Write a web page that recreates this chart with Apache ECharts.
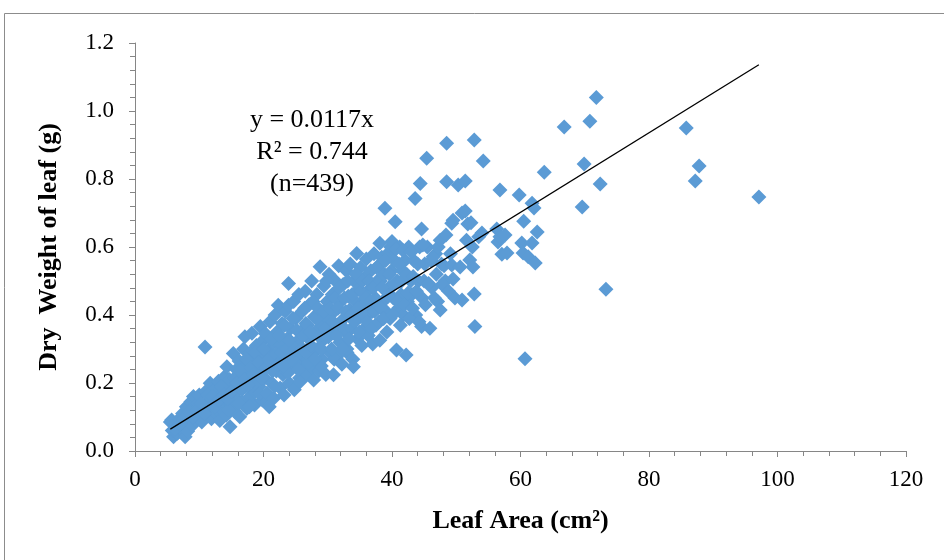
<!DOCTYPE html>
<html>
<head>
<meta charset="utf-8">
<style>
  html, body { margin: 0; padding: 0; background: #fff; }
  #chart { width: 944px; height: 560px; }
</style>
<script src="https://cdn.jsdelivr.net/npm/echarts@6/dist/echarts.min.js"></script>
</head>
<body>
<div id="chart"></div>
<script>
// leaf area (cm²), dry weight (g), grouped by size
let smallLeaves = [
  [5.5,0.085],[5.7,0.091],[6.0,0.042],[5.8,0.06],[6.3,0.075],[6.6,0.052],[6.9,0.095],[7.1,0.066],[7.4,0.11],[7.8,0.042],
  [7.9,0.08],[8.0,0.13],[8.2,0.058],[8.5,0.1],[8.7,0.145],[8.9,0.075],[9.1,0.16],[9.3,0.12],[9.5,0.09],[9.8,0.14],
  [10.0,0.165],[10.2,0.105],[10.4,0.085],[10.6,0.13],[10.9,0.306],[11.0,0.175],[11.2,0.115],[11.5,0.15],[11.7,0.199],[11.9,0.095],
  [12.1,0.135],[12.3,0.18],[12.6,0.11],[6.2,0.065],[7.0,0.08],[7.6,0.095],[9.0,0.1],[10.1,0.125],[11.8,0.14],[13.3,0.11],
  [12.8,0.155],[13.0,0.205],[13.2,0.09],[13.4,0.125],[13.6,0.17],[13.8,0.145],[14.0,0.22],[14.2,0.105],[14.3,0.248],[14.5,0.185],
  [14.8,0.071],[14.9,0.135],[15.1,0.2],[15.3,0.287],[15.4,0.16],[15.6,0.115],[15.8,0.24],[16.0,0.18],[16.2,0.265],[16.3,0.101],
  [16.5,0.215],[16.7,0.145],[16.9,0.3],[17.1,0.336],[17.2,0.19],[17.4,0.125],[17.5,0.255],[17.7,0.225],[17.9,0.16],[18.0,0.29],
  [18.2,0.346],[18.4,0.205],[18.6,0.135],[18.7,0.174],[18.7,0.263],[18.9,0.31],[19.1,0.235],[19.3,0.19],[19.5,0.366],[19.6,0.28],
  [19.8,0.15],[19.9,0.325],[20.0,0.25],[14.6,0.12],[16.1,0.14],[17.8,0.13],[19.4,0.17]
]

let midLeaves = [
  [20.2,0.215],[20.3,0.345],[20.5,0.17],[20.7,0.295],[20.9,0.13],[21.0,0.38],[21.1,0.26],[21.3,0.2],[21.5,0.32],[21.6,0.155],
  [21.8,0.4],[22.0,0.235],[22.1,0.35],[22.3,0.429],[22.4,0.28],[22.6,0.185],[22.7,0.31],[22.9,0.375],[23.0,0.225],[23.2,0.165],
  [23.4,0.41],[23.5,0.265],[23.7,0.33],[23.9,0.493],[23.9,0.429],[24.0,0.2],[24.2,0.36],[24.3,0.295],[24.5,0.245],[24.7,0.44],
  [24.8,0.18],[25.0,0.39],[25.1,0.32],[25.3,0.275],[25.5,0.46],[25.6,0.215],[25.7,0.204],[25.8,0.35],[26.0,0.41],[21.7,0.19],
  [26.1,0.3],[26.3,0.255],[26.5,0.47],[26.6,0.375],[26.8,0.225],[27.0,0.33],[27.1,0.43],[27.3,0.28],[27.5,0.5],[27.6,0.245],
  [27.8,0.209],[27.9,0.395],[28.1,0.35],[28.3,0.46],[28.4,0.3],[28.6,0.235],[28.8,0.542],[28.9,0.41],[29.1,0.27],[29.2,0.37],
  [29.4,0.485],[29.5,0.33],[29.7,0.225],[29.9,0.44],[30.0,0.39],[30.2,0.52],[30.3,0.29],[30.5,0.355],[30.7,0.46],[30.9,0.224],
  [31.0,0.41],[31.2,0.5],[31.4,0.277],[31.5,0.37],[31.7,0.545],[31.9,0.32],[32.0,0.44],[23.8,0.23],[25.0,0.26],[27.0,0.26],
  [29.0,0.25],[31.0,0.27],[33.0,0.29],
  [32.2,0.255],[32.4,0.49],[32.5,0.39],[32.7,0.35],[32.9,0.53],[33.0,0.3],[33.2,0.455],[33.4,0.415],[33.5,0.55],[33.7,0.36],
  [33.9,0.27],[34.0,0.248],[34.1,0.5],[34.3,0.44],[34.5,0.581],[34.6,0.33],[34.8,0.475],[35.0,0.395],[35.1,0.54],[35.3,0.31],
  [35.5,0.43],[35.7,0.36],[35.8,0.51],[36.0,0.565],[36.2,0.47],[36.3,0.34],[36.5,0.405],[36.7,0.53],[36.9,0.41],[37.0,0.315],
  [37.2,0.58],[37.4,0.45],[37.5,0.37],[37.7,0.5],[37.9,0.545],[38.1,0.326],[38.1,0.611]
]

let innerCloud = [
  [8.4,0.115],[9.6,0.12],[10.3,0.14],[10.8,0.11],[11.4,0.165],[12.0,0.16],[12.4,0.13],[13.1,0.15],[13.5,0.19],[13.9,0.165],
  [14.4,0.155],[14.7,0.21],[15.0,0.175],[15.5,0.215],[15.9,0.2],[16.4,0.235],[16.6,0.18],[17.0,0.21],[17.3,0.27],[17.6,0.195],
  [18.1,0.245],[18.5,0.225],[18.8,0.29],[19.2,0.26],[19.7,0.215],[20.1,0.3],[20.4,0.245],[20.8,0.27],[21.2,0.33],[21.4,0.235],
  [21.9,0.285],[22.2,0.255],[22.5,0.34],[22.8,0.29],[23.1,0.25],[23.3,0.37],[23.6,0.3],[24.1,0.325],[24.4,0.27],[24.6,0.39],
  [24.9,0.3],[25.2,0.355],[25.4,0.24],[25.9,0.3],[26.2,0.34],[26.4,0.42],[26.7,0.29],[26.9,0.37],[27.2,0.35],[27.4,0.31],
  [27.7,0.44],[28.0,0.27],[28.2,0.39],[28.5,0.42],[28.7,0.335],[29.0,0.3],[29.3,0.41],[29.6,0.36],[29.8,0.5],[30.1,0.335],
  [30.4,0.42],[30.6,0.3],[30.8,0.38],[31.1,0.45],[31.3,0.34],[31.6,0.42],[31.8,0.48],[32.1,0.37],[32.3,0.3],[32.6,0.45],
  [32.8,0.41],[33.1,0.5],[33.3,0.33],[33.6,0.4],[33.8,0.46],[34.2,0.38],[34.4,0.52],[34.7,0.42],[34.9,0.35],[35.2,0.47],
  [35.4,0.5],[35.6,0.4],[35.9,0.45],[36.1,0.38],[36.4,0.5],[36.6,0.44],[36.8,0.36],[37.1,0.48],[37.3,0.41],[37.6,0.54],
  [37.8,0.43],[38.0,0.38],[38.2,0.5],[38.4,0.57],[38.6,0.44],[38.8,0.52],[39.1,0.41],[39.3,0.58],[39.5,0.48],[39.7,0.39],
  [39.9,0.53],[40.2,0.45],[40.4,0.56],[40.8,0.5],[41.0,0.42],[41.2,0.6],[41.4,0.46],[41.6,0.53],[41.8,0.4],[42.0,0.56],
  [42.4,0.44],[42.6,0.6],[42.9,0.5],[43.1,0.46],[43.4,0.56],[43.7,0.4],[44.1,0.5],[44.3,0.6],[44.7,0.45],[45.1,0.55],
  [45.5,0.6],[46.2,0.48],[46.8,0.58],[47.1,0.44],[47.7,0.55],[48.3,0.5]
]

let largeLeaves = [
  [38.3,0.42],[38.5,0.48],[38.7,0.39],[38.9,0.714],[39.0,0.56],[39.2,0.35],[39.4,0.455],[39.6,0.52],[39.8,0.6],[40.0,0.616],
  [40.1,0.4],[40.3,0.49],[40.5,0.674],[40.6,0.594],[40.7,0.297],[40.9,0.44],[41.1,0.55],[41.3,0.37],[41.5,0.5],[41.7,0.59],
  [41.9,0.43],[42.2,0.282],[42.3,0.52],[42.5,0.465],[42.7,0.39],[43.0,0.585],[43.2,0.42],[43.3,0.513],[43.6,0.743],[43.8,0.47],
  [44.0,0.55],[44.2,0.38],[44.4,0.787],[44.6,0.366],[44.6,0.653],[44.8,0.606],[45.0,0.5],[45.2,0.43],[45.4,0.861],[45.7,0.493],
  [45.9,0.361],[46.1,0.56],[46.4,0.571],
  [46.6,0.45],[46.9,0.52],[47.2,0.6],[47.5,0.415],[47.5,0.62],[47.8,0.49],[48.1,0.545],[48.4,0.635],[48.5,0.905],[48.5,0.792],
  [48.8,0.47],[49.1,0.58],[49.3,0.67],[49.3,0.547],[49.5,0.506],[49.5,0.679],[49.8,0.45],[50.3,0.782],[50.6,0.541],[50.9,0.7],
  [50.9,0.444],[51.4,0.794],[51.4,0.706],[51.6,0.62],[51.8,0.668],[52.1,0.562],[52.3,0.671],[52.5,0.6],[52.6,0.541],[52.8,0.915],
  [52.8,0.462],[52.9,0.366],[53.5,0.63],[54.0,0.641],[54.2,0.853]
]

let outliers = [
  [56.3,0.653],[56.5,0.615],[56.8,0.768],[56.8,0.63],[57.1,0.579],[57.6,0.635],[57.9,0.582],[59.8,0.753],[60.2,0.612],[60.4,0.582],
  [60.5,0.676],[60.7,0.271],[61.2,0.571],[61.8,0.612],[61.8,0.729],[62.1,0.715],[62.3,0.553],[62.6,0.644],[63.7,0.82],[66.8,0.953],
  [69.6,0.718],[69.9,0.844],[70.8,0.97],[71.8,1.04],[72.4,0.785],[73.3,0.476],[85.8,0.95],[87.2,0.794],[87.8,0.838],[97.1,0.747]
]

let slope = 0.0117
let fitText = ['y = 0.0117x', 'R² = 0.744', '(n=439)']

let allPoints = smallLeaves.concat(midLeaves, innerCloud, largeLeaves, outliers)
let xs = allPoints.map(p => p[0])
let xMin = Math.min(...xs)
let xMax = Math.max(...xs)
let fitLine = [[xMin, slope * xMin], [xMax, slope * xMax]]

let serif = '"Liberation Serif", "Times New Roman", serif'
let axisGray = '#868686'

let chart = echarts.init(document.getElementById('chart'))
chart.setOption({
  animation: false,
  backgroundColor: '#fff',
  grid: { left: 135, right: 38, top: 43, bottom: 109 },
  graphic: [
    {
      type: 'rect',
      shape: { x: 4.5, y: 13.5, width: 1000, height: 1000 },
      style: { fill: 'none', stroke: '#8c8c8c', lineWidth: 1 },
      silent: true
    },
    {
      type: 'text',
      x: 312,
      y: 104,
      style: {
        text: fitText.join('\n'),
        font: '26px ' + serif,
        fill: '#000',
        align: 'center',
        lineHeight: 32
      }
    }
  ],
  xAxis: {
    type: 'value',
    min: 0,
    max: 120,
    interval: 20,
    name: 'Leaf Area (cm²)',
    nameLocation: 'middle',
    nameGap: 57,
    nameTextStyle: { fontFamily: serif, fontWeight: 'bold', fontSize: 26, color: '#000' },
    axisLine: { lineStyle: { color: axisGray, width: 1 } },
    axisTick: { show: true, inside: false, length: 6, lineStyle: { color: axisGray } },
    minorTick: { show: true, splitNumber: 5, length: 5, lineStyle: { color: axisGray } },
    axisLabel: { fontFamily: serif, fontSize: 23, color: '#000', margin: 17 },
    splitLine: { show: false }
  },
  yAxis: {
    type: 'value',
    min: 0,
    max: 1.2,
    interval: 0.2,
    name: 'Dry  Weight of leaf (g)',
    nameLocation: 'middle',
    nameGap: 73,
    nameTextStyle: { fontFamily: serif, fontWeight: 'bold', fontSize: 26, color: '#000' },
    axisLine: { show: true, lineStyle: { color: axisGray, width: 1 } },
    axisTick: { show: true, inside: false, length: 6, lineStyle: { color: axisGray } },
    minorTick: { show: true, splitNumber: 5, length: 5, lineStyle: { color: axisGray } },
    axisLabel: { fontFamily: serif, fontSize: 23, color: '#000', margin: 21, formatter: v => v.toFixed(1) },
    splitLine: { show: false }
  },
  series: [
    {
      type: 'scatter',
      symbol: 'diamond',
      symbolSize: 15,
      itemStyle: { color: '#5b9bd5', opacity: 1 },
      data: allPoints,
      z: 2
    },
    {
      type: 'line',
      data: fitLine,
      symbol: 'none',
      lineStyle: { color: '#000', width: 1.3 },
      z: 3
    }
  ]
})
</script>
</body>
</html>
